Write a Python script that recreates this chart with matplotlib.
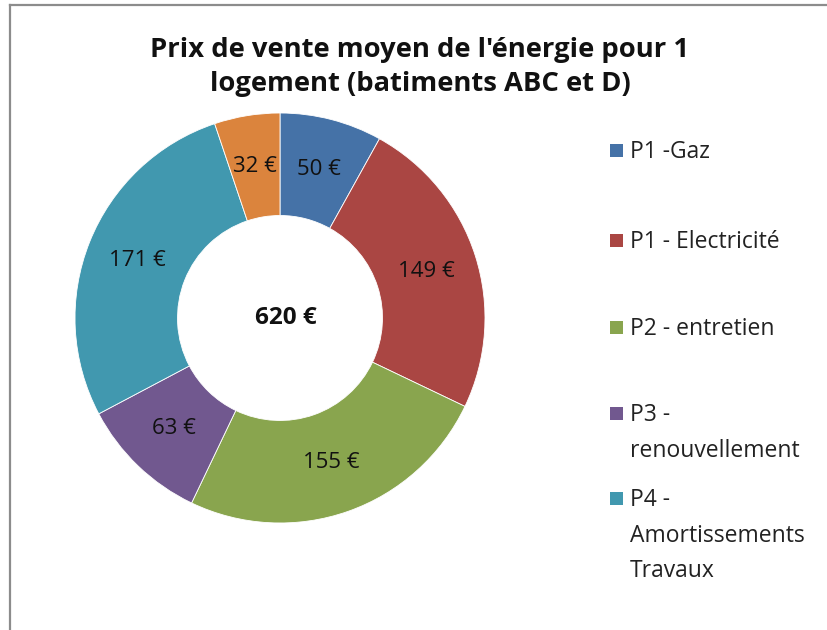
import numpy as np
import matplotlib.pyplot as plt
from matplotlib.patches import Rectangle
from matplotlib.lines import Line2D

# Répartition du prix de l'énergie (€ / logement)
postes = ["P1 -Gaz", "P1 - Electricité", "P2 - entretien",
          "P3 -\nrenouvellement", "P4 -\nAmortissements\nTravaux", "P5"]
montants = [50, 149, 155, 63, 171, 32]
couleurs = ["#4572A7", "#AA4643", "#89A54E", "#71588F", "#4198AF", "#DB843D"]
total = sum(montants)

plt.rcParams['font.family'] = ['Open Sans', 'DejaVu Sans']

W, H = 827, 630
fig = plt.figure(figsize=(W / 100, H / 100), dpi=100)

# cadre gris (haut et gauche)
fig.add_artist(Line2D([10 / W, 10 / W], [0, 1 - 5 / H], color="#8c8c8c", lw=1.6,
                      transform=fig.transFigure))
fig.add_artist(Line2D([10 / W, 1], [1 - 5 / H, 1 - 5 / H], color="#8c8c8c", lw=1.6,
                      transform=fig.transFigure))

# anneau
cx, cy, R = 280, 318, 205
ax = fig.add_axes([(cx - R) / W, (H - cy - R) / H, 2 * R / W, 2 * R / H])
wedges, _ = ax.pie(montants, colors=couleurs, startangle=90, counterclock=False,
                   radius=1, wedgeprops=dict(width=0.5, edgecolor="white", linewidth=0.6))
ax.set_xlim(-1, 1)
ax.set_ylim(-1, 1)
ax.set_aspect("equal")

for w, v in zip(wedges, montants):
    ang = np.deg2rad((w.theta1 + w.theta2) / 2)
    ax.text(0.75 * np.cos(ang), 0.75 * np.sin(ang), f"{v} €",
            ha="center", va="center", fontsize=16, color="#111111")

ax.text(0.03, 0, f"{total} €", ha="center", va="center", fontsize=17.5,
        fontweight="bold", color="#111111")

fig.text(420 / W, 1 - 67 / H, "Prix de vente moyen de l'énergie pour 1\nlogement (batiments ABC et D)",
         ha="center", va="center", fontsize=19.7, fontweight="bold",
         linespacing=1.4, color="#111111")

# légende (5 premiers postes)
leg_y = [150, 240, 327, 413, 498]
for y, lab, col in zip(leg_y, postes[:5], couleurs[:5]):
    fig.add_artist(Rectangle(((610) / W, 1 - (y + 7) / H), 13 / W, 13 / H,
                             facecolor=col, transform=fig.transFigure))
    fig.text(630 / W, 1 - (y - 10) / H, lab, ha="left", va="top",
             fontsize=16.5, color="#222222", linespacing=1.65)

fig.savefig("out.png", dpi=100)
